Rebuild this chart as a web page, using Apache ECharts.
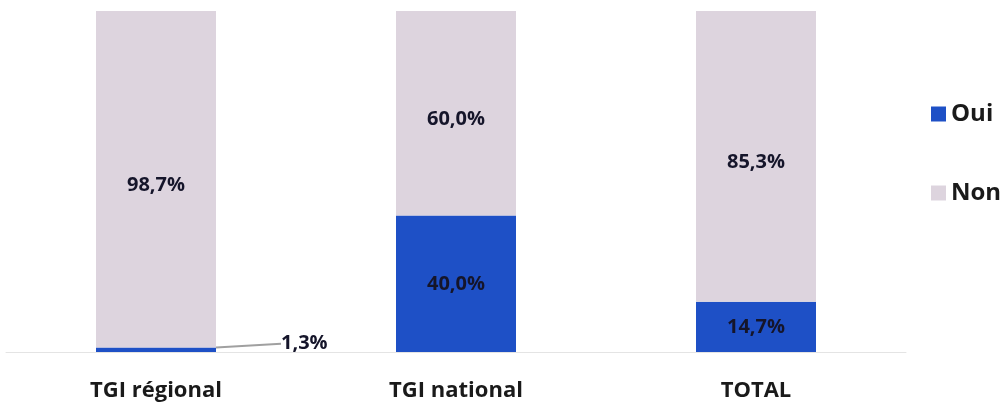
<!DOCTYPE html>
<html lang="fr">
<head>
    <meta charset="UTF-8">
    <title>TGI</title>
    <script src="https://cdn.jsdelivr.net/npm/echarts@6/dist/echarts.min.js"></script>
    <style>
        * { margin: 0; padding: 0 }
        html, body { width: 100%; height: 100%; background: #fff; }
        #main { width: 1001px; height: 405px; }
    </style>
</head>
<body>
<div id="main"></div>
<script type="text/javascript">
    var categories = ['TGI régional', 'TGI national', 'TOTAL'];
    var oui = [1.3, 40.0, 14.7];
    var non = [98.7, 60.0, 85.3];

    // 1,3% -> virgule décimale
    var fmt = function (p) {
        return p.value.toFixed(1).replace('.', ',') + '%';
    };

    var myChart = echarts.init(document.getElementById('main'));

    var option = {
        animation: false,
        textStyle: { fontFamily: 'Open Sans' },
        legend: {
            orient: 'vertical',
            left: 926,
            top: 97,
            itemGap: 55,
            itemWidth: 15,
            itemHeight: 15,
            icon: 'rect',
            textStyle: { fontSize: 24, fontWeight: 'bold', color: '#1a1a1a', fontFamily: 'Open Sans' },
            data: ['Oui', 'Non']
        },
        grid: { left: 6, right: 95, top: 11, bottom: 53 },
        xAxis: {
            type: 'category',
            data: categories,
            axisTick: { show: false },
            axisLine: { lineStyle: { color: '#e4e4e4', width: 1 } },
            axisLabel: { fontSize: 22, fontWeight: 'bold', color: '#1a1a1a', margin: 28 }
        },
        yAxis: { type: 'value', min: 0, max: 100, show: false },
        series: [
            {
                name: 'Oui',
                type: 'bar',
                stack: 'a',
                barWidth: 120,
                itemStyle: { color: '#1e50c6' },
                label: { show: true, formatter: fmt, fontSize: 20, fontWeight: 'bold', color: '#15152a', offset: [0, 6] },
                labelLine: { show: true, lineStyle: { color: '#a0a0a0', width: 2 } },
                data: oui.map(function (v, i) {
                    if (i === 0) {
                        return {
                            value: v,
                            label: { position: 'right', distance: 0, offset: [0, 0] }
                        };
                    }
                    return v;
                }),
                labelLayout: function (p) {
                    if (p.dataIndex === 0) {
                        return { dx: 65, dy: -6 };
                    }
                }
            },
            {
                name: 'Non',
                type: 'bar',
                stack: 'a',
                barWidth: 120,
                itemStyle: { color: '#ddd4de' },
                label: { show: true, formatter: fmt, fontSize: 20, fontWeight: 'bold', color: '#15152a', offset: [0, 6] },
                data: non
            }
        ]
    };

    myChart.setOption(option);
</script>
</body>
</html>
